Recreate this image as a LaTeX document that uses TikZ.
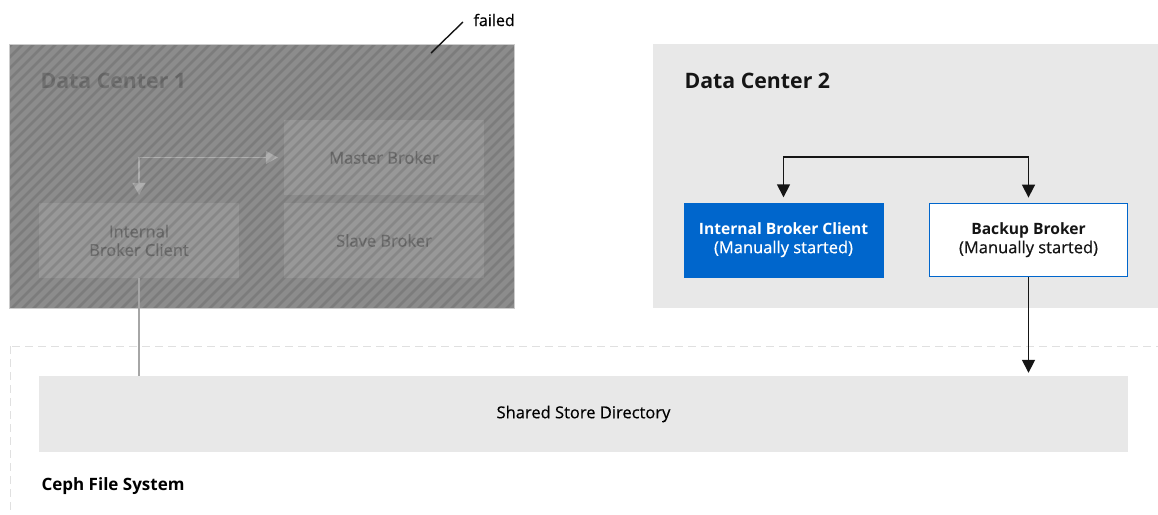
\documentclass[tikz,border=0pt]{standalone}
\usepackage{fontspec}
\setmainfont{Open Sans}[UprightFeatures={FakeBold=0.5}]
\usetikzlibrary{arrows.meta,positioning,calc}
\definecolor{rhblue}{HTML}{0066CC}
\definecolor{panel}{HTML}{E8E8E8}
\definecolor{deadbg}{HTML}{8C8C8C}
\definecolor{deadbox}{HTML}{989898}
\definecolor{deadtxt}{HTML}{6E6E6E}
\definecolor{ink}{HTML}{151515}
\newcommand{\boxhead}[1]{{\fontsize{15.6}{18.5}\selectfont\bfseries #1}}

\tikzset{
  box/.style={minimum width=200pt,minimum height=75pt,inner sep=0pt,align=center,
    font=\fontsize{16.5}{18.5}\selectfont},
  deadnode/.style={box,fill=deadbox,text=deadtxt},
  arr/.style={line width=1.6pt,ink,-{Triangle[length=13pt,width=13pt]}},
  dimarr/.style={line width=1.6pt,white!22!deadbox,{Triangle[length=12pt,width=13pt]}-{Triangle[length=12pt,width=13pt]}},
  title/.style={anchor=west,font=\fontsize{21.3}{24}\selectfont\bfseries}
}

\begin{document}
\begin{tikzpicture}[x=1pt,y=-1pt]
  \useasboundingbox (0,0) rectangle (1158,514);
  % ceph file system (dashed, runs off the page)
  \draw[black!12,line width=1pt,dash pattern=on 8pt off 5pt] (10,346) rectangle (1170,530);
  \node[anchor=west,font=\fontsize{17}{18}\selectfont\bfseries] (ceph) at (38,486) {Ceph File System};
  \node[box,fill=panel,minimum width=1089pt,minimum height=76pt] (store) at (583.5,414) {Shared Store Directory};

  % data center 1 (failed)
  \fill[deadbg] (9,44) rectangle (514,308);
  \node[deadnode] (master) at (384,157.5) {Master Broker};
  \node[deadnode] (slave) at (384,240.5) {Slave Broker};
  \node[deadnode] (client) at (139,240.5) {Internal\\Broker Client};
  \node[title,text=deadtxt!92!deadbg] (dcone) at (37,81) {Data Center 1};
  \draw[dimarr,shorten <=8pt,shorten >=6pt] (client.north) |- (master.west);
  \begin{scope}
    \clip (9,44) rectangle (514,308);
    \foreach \x in {-265,-254,...,520}
      \draw[black,opacity=0.11,line width=2.6pt] (\x,310) -- (\x+270,40);
  \end{scope}
  \draw[black!20,line width=1pt] (9,44) rectangle (514,308);
  \draw[line width=1.2pt,black!35] (client.south) -- (client.south |- store.north);

  % failed note
  \coordinate (failtip) at (431,53);
  \node[anchor=west,font=\fontsize{16}{18}\selectfont] (failed) at (470,20) {failed};
  \draw[ink,line width=1.4pt] (failtip) -- ($(failed.west)+(-7,2)$);

  % data center 2
  \fill[panel] (653,44) rectangle (1170,308);
  \node[title,text=ink] (dctwo) at (681,81) {Data Center 2};
  \node[box,fill=rhblue,text=white] (clienttwo) at (783.5,240) {\boxhead{Internal Broker Client}\\(Manually started)};
  \node[box,fill=white,draw=rhblue,line width=1.8pt,minimum width=198pt,minimum height=73pt,text=ink] (backup) at (1028.5,240) {\boxhead{Backup Broker}\\(Manually started)};
  \coordinate (fork) at (906,157);
  \draw[arr,shorten >=5pt] (fork) -| (clienttwo.north);
  \draw[arr,shorten >=5pt] (fork) -| (backup.north);
  \draw[arr,shorten >=3pt] (backup.south) -- (backup.south |- store.north);
\end{tikzpicture}
\end{document}
